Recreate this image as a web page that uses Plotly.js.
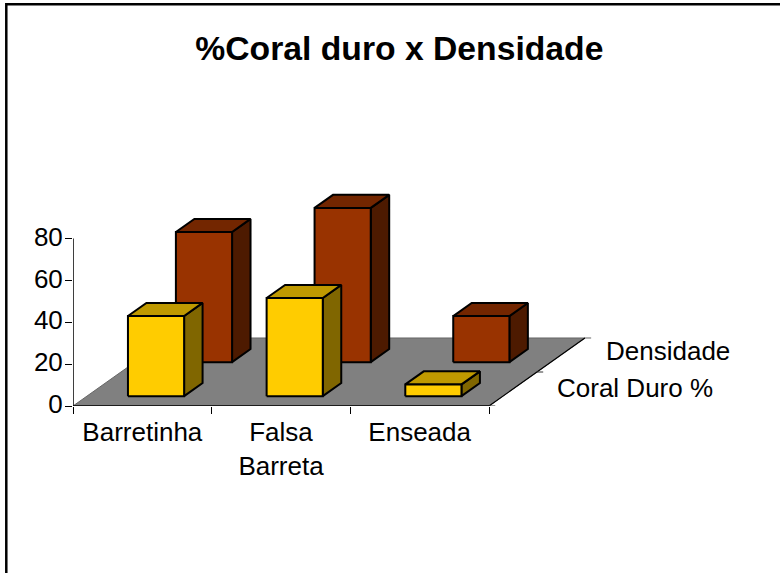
<!DOCTYPE html>
<html>
<head>
<meta charset="utf-8">
<script src="https://cdn.plot.ly/plotly-3.0.1.min.js"></script>
<style>html,body{margin:0;padding:0;background:#fff;overflow:hidden}</style>
</head>
<body>
<div id="chart" style="width:780px;height:573px"></div>
<script>
const categories = ['Barretinha', 'Falsa<br>Barreta', 'Enseada'];
const seriesNames = ['Coral Duro %', 'Densidade'];
const coralDuro = [38.3, 46.9, 5.6];
const densidade = [62.2, 73.7, 22];
const yTicks = [0, 20, 40, 60, 80];
const colours = [
  {front: '#FFCC00', top: '#BF9900', side: '#806600'},
  {front: '#993300', top: '#732600', side: '#4D1A00'}
];
// oblique projection of the 3D chart box on the 2D axes
const DX = 0.3458, DY = 16.25;
const BAR_START = 0.296, BAR_W = 0.405, D_START = 0.29, D_LEN = 0.385;
const proj = (u, d, v) => [u + d * DX, v + d * DY];
function poly(pts, fill, lw, lc) {
  return {type: 'scatter', mode: 'lines', x: pts.map(p => p[0]), y: pts.map(p => p[1]),
    fill: fill ? 'toself' : 'none', fillcolor: fill || undefined,
    line: {color: lc || '#000', width: lw}, hoverinfo: 'skip', showlegend: false, cliponaxis: false};
}
const nCat = categories.length, nDepth = seriesNames.length;
const traces = [];
// floor
traces.push(poly([proj(0,0,0), proj(nCat,0,0), proj(nCat,nDepth,0), proj(0,nDepth,0), proj(0,0,0)], '#808080', 1, '#666'));
// bars, back row first
[densidade, coralDuro].forEach((vals, idx) => {
  const s = nDepth - 1 - idx, c = colours[s];
  vals.forEach((v, i) => {
    const u0 = i + BAR_START, u1 = u0 + BAR_W, d0 = s + D_START, d1 = d0 + D_LEN;
    traces.push(poly([proj(u1,d0,0), proj(u1,d1,0), proj(u1,d1,v), proj(u1,d0,v), proj(u1,d0,0)], c.side, 2));
    traces.push(poly([proj(u0,d0,v), proj(u1,d0,v), proj(u1,d1,v), proj(u0,d1,v), proj(u0,d0,v)], c.top, 2));
    traces.push(poly([proj(u0,d0,0), proj(u1,d0,0), proj(u1,d0,v), proj(u0,d0,v), proj(u0,d0,0)], c.front, 2));
  });
});
// axis lines
traces.push(poly([[0, yTicks[yTicks.length-1]], [0, 0], [nCat, 0]], null, 1.5));
traces.push(poly([proj(nCat,0,0), proj(nCat,nDepth,0)], null, 1.2));
// depth-axis ticks
const TICK = 0.045;
for (let d = 0; d <= nDepth; d++) {
  const p = proj(nCat, d, 0);
  traces.push(poly([p, [p[0] + TICK, p[1]]], null, 1, d === nDepth ? '#666' : '#333'));
}
const font = {family: 'Liberation Sans, Arial, sans-serif', size: 26, color: '#000'};
const annotations = [
  {x: proj(nCat, 0.5, 0)[0] + 0.882, y: proj(nCat, 0.5, 0)[1] + 0.3, text: seriesNames[0]},
  {x: proj(nCat, 1.5, 0)[0] + 0.77, y: proj(nCat, 1.5, 0)[1] + 1.7, text: seriesNames[1]}
].map(a => Object.assign(a, {xref: 'x', yref: 'y', showarrow: false, xanchor: 'center', yanchor: 'middle', font}));
const layout = {
  width: 780, height: 573, paper_bgcolor: '#fff', plot_bgcolor: 'rgba(0,0,0,0)',
  margin: {l: 73, r: 7, t: 10, b: 167},
  title: {text: '<b>%Coral duro x Densidade</b>', x: 0.512, xanchor: 'center', y: 0.916, yanchor: 'middle',
    font: {family: 'Liberation Sans, Arial, sans-serif', size: 33.7, color: '#000'}},
  xaxis: {range: [0, 700 / 138.67], showgrid: false, zeroline: false, showline: false,
    tickmode: 'array', tickvals: categories.map((c, i) => i + 0.5), ticktext: categories,
    ticks: '', tickfont: font, tickangle: 0, ticklabelstandoff: 8,
    minor: {tickmode: 'array', tickvals: [0, 1, 2, 3], ticks: 'outside', ticklen: 7, tickwidth: 1, tickcolor: '#000', showgrid: false}},
  yaxis: {range: [0, 396 / 2.0925], showgrid: false, zeroline: false, showline: false,
    tickmode: 'array', tickvals: yTicks, ticks: 'outside', ticklen: 7, tickwidth: 1, tickcolor: '#000', tickfont: font,
    ticklabelstandoff: -3, ticklabelshift: -2},
  annotations,
  shapes: [{type: 'path', xref: 'paper', yref: 'paper',
    path: 'M -0.0953 -0.5 L -0.0953 1.0144 L 1.02 1.0144',
    line: {color: '#000', width: 2.5}, fillcolor: 'rgba(0,0,0,0)', layer: 'above'}],
  hovermode: false, showlegend: false
};
Plotly.newPlot('chart', traces, layout, {displayModeBar: false, staticPlot: true});
</script>
</body>
</html>
